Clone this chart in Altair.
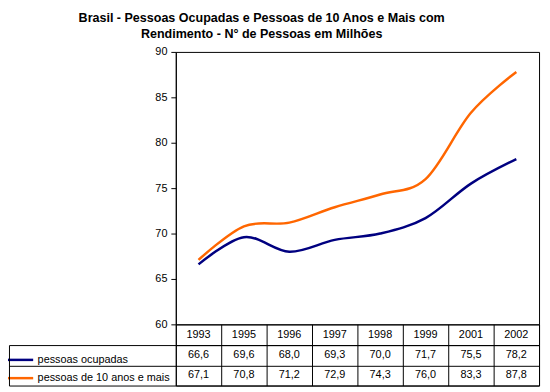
import altair as alt
import pandas as pd

years = ["1993", "1995", "1996", "1997", "1998", "1999", "2001", "2002"]
ocupadas = [66.6, 69.6, 68.0, 69.3, 70.0, 71.7, 75.5, 78.2]
dez_mais = [67.1, 70.8, 71.2, 72.9, 74.3, 76.0, 83.3, 87.8]
series_names = ["pessoas ocupadas", "pessoas de 10 anos e mais"]
series_colors = ["#000080", "#FF6600"]
y_ticks = [60, 65, 70, 75, 80, 85, 90]
title_lines = ["Brasil - Pessoas Ocupadas e Pessoas de 10 Anos e Mais com",
               "Rendimento - N\u00b0 de Pessoas em Milh\u00f5es"]

rows = []
for name, vals in zip(series_names, [ocupadas, dez_mais]):
    for yr, v in zip(years, vals):
        rows.append({"ano": yr, "serie": name, "valor": v})
df = pd.DataFrame(rows)
df_years = pd.DataFrame({"ano": years, "linha": ["ano"] * len(years)})

W = 368
LABEL_COL = 169
FONT = "Liberation Sans"

lines = alt.Chart(df).mark_line(strokeWidth=2.5, interpolate="cardinal", tension=0).encode(
    x=alt.X("ano:N", sort=years, scale=alt.Scale(type="point", padding=0.5), axis=None),
    y=alt.Y("valor:Q", scale=alt.Scale(domain=[60, 90], nice=False, zero=False),
            axis=alt.Axis(values=y_ticks, title=None, grid=False, tickSize=5, labelPadding=4,
                          labelFontSize=11)),
    color=alt.Color("serie:N", sort=series_names,
                    scale=alt.Scale(domain=series_names, range=series_colors),
                    legend=alt.Legend(orient="none", legendX=-169, legendY=300.5, title=None,
                                      symbolType="M-1.3,0H1.3", symbolSize=400,
                                      symbolStrokeWidth=2.5, labelFontSize=11,
                                      labelColor="black", rowPadding=1.5,
                                      padding=0, labelOffset=6, labelLimit=300)),
).properties(width=W, height=276)

x_band = alt.X("ano:N", sort=years, scale=alt.Scale(type="band", paddingInner=0, paddingOuter=0),
               axis=alt.Axis(labels=False, ticks=False, domain=False, grid=True, tickBand="extent",
                             gridColor="black", gridOpacity=1, title=None))

year_row = alt.Chart(df_years).mark_text(fontSize=11, color="black").encode(
    x=x_band,
    y=alt.Y("linha:N", axis=None),
    text="ano:N",
).properties(width=W, height=21)

vals_chart = alt.Chart(df).transform_calculate(
    rotulo="replace(format(datum.valor, '.1f'), '.', ',')"
).mark_text(fontSize=11, color="black").encode(
    x=x_band,
    y=alt.Y("serie:N", sort=series_names,
            scale=alt.Scale(type="band", paddingInner=0, paddingOuter=0),
            axis=alt.Axis(orient="right", offset=-(W + LABEL_COL), tickSize=LABEL_COL,
                          tickBand="extent", labels=False, domain=True, grid=True, title=None,
                          gridColor="black", gridOpacity=1)),
    text="rotulo:N",
).properties(width=W, height=41)

chart = alt.vconcat(
    lines, year_row, vals_chart,
    spacing=0, bounds="flush",
    title=alt.TitleParams(text=title_lines, fontSize=12.7, fontWeight="bold", anchor="middle",
                          frame="group", dx=-97, lineHeight=17, offset=4.5, color="black",
                          font=FONT),
    padding={"left": 0, "top": 1, "right": 2, "bottom": 0},
).resolve_scale(
    x="independent", y="independent", color="independent"
).configure(font=FONT).configure_view(
    stroke="black", strokeWidth=1
).configure_axis(
    domainColor="black", tickColor="black", labelColor="black", labelFont=FONT,
    domainWidth=1, tickWidth=1
)

chart.save("out.html", embed_options={"renderer": "svg", "actions": False})
